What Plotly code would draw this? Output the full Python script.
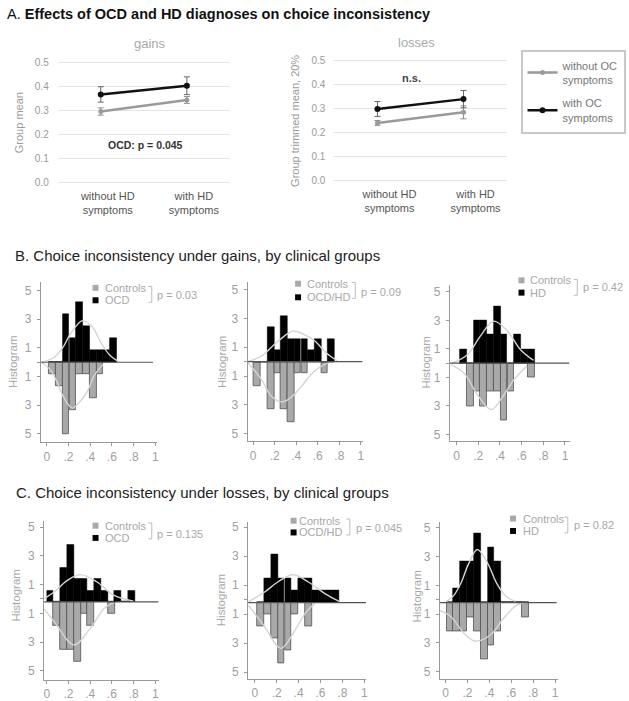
import plotly.graph_objects as go

W, H = 629, 701

# ---------------- Panel A data ----------------
hd_groups = ["without HD<br>symptoms", "with HD<br>symptoms"]
gains_no_oc = [0.297, 0.345]
gains_no_oc_err = [0.015, 0.014]
gains_oc = [0.368, 0.404]
gains_oc_err = [0.032, 0.037]
losses_no_oc = [0.242, 0.286]
losses_no_oc_err = [0.010, 0.027]
losses_oc = [0.300, 0.341]
losses_oc_err = [0.031, 0.036]
a_yticks = [0.0, 0.1, 0.2, 0.3, 0.4, 0.5]

# ---------------- Histogram data ----------------
bin_width = 0.0625
hist_xticks = [0, 0.2, 0.4, 0.6, 0.8, 1]
hist_xticktext = ["0", ".2", ".4", ".6", ".8", "1"]
hist_yticks = [5, 3, 1, 0, -1, -3, -5]
hist_yticktext = ["5", "3", "1", "", "1", "3", "5"]

# B1: gains, Controls vs OCD
b1_bins = [0.051, 0.114, 0.176, 0.239, 0.301, 0.364, 0.426, 0.489, 0.551, 0.614]
b1_controls = [0.83, 1.67, 5.0, 3.33, 0.83, 0.83, 2.5, 0.83, 0, 0]
b1_patients = [0, 0, 3.33, 1.67, 4.17, 2.5, 0.83, 0.83, 0.83, 1.67]
b1_fit_pat_x = [-0.05, 0.07, 0.15, 0.22, 0.33, 0.42, 0.5, 0.58, 0.66]
b1_fit_pat_y = [0.0, 0.35, 1.05, 2.0, 2.9, 2.45, 1.35, 0.5, 0.05]
b1_fit_ctl_x = [-0.05, 0.03, 0.09, 0.16, 0.235, 0.31, 0.37, 0.44, 0.52]
b1_fit_ctl_y = [0.0, -0.5, -1.3, -2.5, -3.2, -2.7, -2.1, -0.9, -0.15]

# B2: gains, Controls vs OCD/HD
b2_bins = [0.038, 0.101, 0.163, 0.226, 0.288, 0.351, 0.413, 0.476, 0.538, 0.601, 0.663, 0.726]
b2_controls = [1.67, 0, 3.33, 0.83, 3.33, 4.17, 0.83, 0.83, 0, 0, 0.83, 0]
b2_patients = [0, 0, 2.37, 0.79, 3.16, 1.58, 1.58, 1.58, 0.79, 1.58, 0, 1.58]
b2_fit_pat_x = [-0.05, 0.08, 0.17, 0.26, 0.37, 0.47, 0.57, 0.68, 0.78]
b2_fit_pat_y = [0.0, 0.4, 1.0, 1.6, 2.12, 1.9, 1.45, 0.6, 0.06]
b2_fit_ctl_x = [-0.05, 0.08, 0.17, 0.27, 0.36, 0.45, 0.57, 0.69]
b2_fit_ctl_y = [-0.05, -1.27, -2.4, -2.8, -2.45, -1.7, -0.65, -0.08]

# B3: gains, Controls vs HD
b3_bins = [0.062, 0.125, 0.187, 0.25, 0.312, 0.375, 0.437, 0.5, 0.562, 0.625, 0.687]
b3_controls = [0, 3, 2, 3, 2, 2, 4, 2, 0, 0, 1]
b3_patients = [1, 0, 3, 3, 2, 4, 2, 0, 2, 1, 1]
b3_fit_pat_x = [-0.04, 0.1, 0.22, 0.34, 0.46, 0.59, 0.71]
b3_fit_pat_y = [0.0, 0.6, 1.9, 2.95, 2.35, 0.95, 0.2]
b3_fit_ctl_x = [-0.05, 0.07, 0.2, 0.32, 0.43, 0.53, 0.65]
b3_fit_ctl_y = [-0.1, -0.7, -2.3, -3.25, -2.3, -1.15, -0.2]

# C1: losses, Controls vs OCD
c1_bins = [0.031, 0.094, 0.156, 0.219, 0.281, 0.344, 0.406, 0.469, 0.531, 0.594, 0.656, 0.719, 0.781]
c1_controls = [0, 1.67, 3.33, 3.33, 4.17, 0.83, 1.67, 0, 0, 0.83, 0, 0, 0]
c1_patients = [0.8, 0, 2.4, 4.0, 1.6, 1.6, 0.8, 1.6, 0.8, 0, 0.8, 0, 0.8]
c1_fit_pat_x = [-0.05, 0.07, 0.19, 0.31, 0.46, 0.62, 0.8]
c1_fit_pat_y = [0.1, 0.7, 1.5, 1.9, 1.4, 0.45, 0.05]
c1_fit_ctl_x = [-0.05, 0.07, 0.25, 0.4, 0.53, 0.62]
c1_fit_ctl_y = [-0.25, -1.4, -3.0, -1.85, -0.45, -0.05]

# C2: losses, Controls vs OCD/HD
c2_bins = [0.054, 0.116, 0.179, 0.241, 0.304, 0.366, 0.429, 0.491, 0.554, 0.616, 0.679, 0.741]
c2_controls = [1.67, 0.83, 2.5, 4.17, 3.33, 0.83, 0, 1.67, 0, 0, 0, 0]
c2_patients = [0, 1.65, 3.3, 1.65, 1.65, 0.82, 1.65, 1.65, 0.82, 0.82, 0.82, 0.82]
c2_fit_pat_x = [-0.06, 0.09, 0.21, 0.35, 0.49, 0.64, 0.77]
c2_fit_pat_y = [0.05, 0.73, 1.42, 1.92, 1.42, 0.62, 0.09]
c2_fit_ctl_x = [-0.06, 0.08, 0.24, 0.36, 0.47, 0.55]
c2_fit_ctl_y = [-0.18, -1.56, -3.16, -2.0, -0.64, -0.07]

# C3: losses, Controls vs HD
c3_bins = [0.039, 0.101, 0.164, 0.226, 0.289, 0.351, 0.414, 0.476, 0.539, 0.601, 0.664, 0.726]
c3_controls = [2.03, 2.03, 2.03, 1.06, 2.03, 3.93, 3.0, 2.03, 0, 0, 0, 1.0]
c3_patients = [0, 0.96, 2.88, 2.88, 4.8, 0, 3.84, 2.88, 0, 0, 0, 0]
c3_fit_pat_x = [0.0, 0.07, 0.14, 0.21, 0.29, 0.38, 0.47, 0.55, 0.64]
c3_fit_pat_y = [0.05, 0.45, 1.35, 2.7, 3.7, 2.8, 1.3, 0.45, 0.08]
c3_fit_ctl_x = [-0.05, 0.05, 0.17, 0.27, 0.41, 0.53, 0.65, 0.74]
c3_fit_ctl_y = [-0.55, -1.0, -2.15, -2.68, -2.26, -1.1, -0.18, 0.0]

panel_patient_labels = ["OCD", "OCD/HD", "HD", "OCD", "OCD/HD", "HD"]
panel_pvalues = ["p = 0.03", "p = 0.09", "p = 0.42", "p = 0.135", "p = 0.045", "p = 0.82"]

# ---------------- helpers ----------------
def px(x):
    return x / W

def py(y):
    return 1 - y / H

FONT = "Liberation Sans, Arial, sans-serif"
GRAY_TXT = "#a8a8a8"
CTRL_COL = "#a9a9a9"

fig = go.Figure()

# ---------------- Panel A ----------------
a_panels = [
    dict(ax="x", ay="y", no=gains_no_oc, noe=gains_no_oc_err, oc=gains_oc, oce=gains_oc_err, leg=True),
    dict(ax="x2", ay="y2", no=losses_no_oc, noe=losses_no_oc_err, oc=losses_oc, oce=losses_oc_err, leg=False),
]
for p in a_panels:
    fig.add_trace(go.Scatter(
        x=hd_groups, y=p["no"], xaxis=p["ax"], yaxis=p["ay"], mode="lines+markers",
        name="without OC<br>symptoms", legendgroup="no", showlegend=p["leg"],
        line=dict(color="#9a9a9a", width=2.5), marker=dict(color="#9a9a9a", size=5),
        error_y=dict(type="data", array=p["noe"], color="#8a8a8a", thickness=1, width=3)))
    fig.add_trace(go.Scatter(
        x=hd_groups, y=p["oc"], xaxis=p["ax"], yaxis=p["ay"], mode="lines+markers",
        name="with OC<br>symptoms", legendgroup="oc", showlegend=p["leg"],
        line=dict(color="#111111", width=2.5), marker=dict(color="#111111", size=6),
        error_y=dict(type="data", array=p["oce"], color="#666666", thickness=1, width=3)))

layout_axes = {}

def a_axes(name_x, name_y, xl, xr, py0, t, shift):
    lo, hi = -0.02, 0.52
    pB = py0 - lo * t
    pT = py0 - hi * t
    layout_axes["xaxis" + name_x] = dict(
        domain=[px(xl), px(xr)], anchor="y" + name_y, type="category",
        categoryorder="array", categoryarray=hd_groups, range=[-0.5, 1.5],
        showgrid=False, showline=False, zeroline=False, ticks="",
        ticklabelshift=shift,
        tickfont=dict(size=11, color="#555555", family=FONT))
    layout_axes["yaxis" + name_y] = dict(
        domain=[py(pB), py(pT)], anchor="x" + name_x, range=[lo, hi],
        tickvals=a_yticks, tickformat=".1f", showgrid=True, gridcolor="#e4e4e4",
        gridwidth=1, zeroline=False, showline=False, ticks="", ticklabelstandoff=8,
        tickfont=dict(size=10, color="#9a9a9a", family=FONT))

a_axes("", "", 57, 230, 182, 242, 7)
a_axes("2", "2", 335, 508, 180, 241.4, 12)

# ---------------- Histogram panels ----------------
hist_panels = [
    dict(bins=b1_bins, ctl=b1_controls, pat=b1_patients, fpx=b1_fit_pat_x, fpy=b1_fit_pat_y,
         fcx=b1_fit_ctl_x, fcy=b1_fit_ctl_y,
         g=dict(px0=46, s=109, pL=40, pR=157, py0=362.3, t=14.43, pT=281.7, pB=442.7, base_end=152.7, shift=0),
         leg=dict(sq=92, r1=287.5, r2=300, tx=102, br=151.5, b1=286, b2=302, p_x=155, p_y=295),
         htx=12, hty=362),
    dict(bins=b2_bins, ctl=b2_controls, pat=b2_patients, fpx=b2_fit_pat_x, fpy=b2_fit_pat_y,
         fcx=b2_fit_ctl_x, fcy=b2_fit_ctl_y,
         g=dict(px0=253.3, s=108.3, pL=247.7, pR=364, py0=361.7, t=14.47, pT=281.7, pB=441.7, base_end=363, shift=0),
         leg=dict(sq=295.5, r1=283.3, r2=297, tx=305, br=356, b1=282, b2=298, p_x=360, p_y=291.5),
         htx=221.5, hty=361.7),
    dict(bins=b3_bins, ctl=b3_controls, pat=b3_patients, fpx=b3_fit_pat_x, fpy=b3_fit_pat_y,
         fcx=b3_fit_ctl_x, fcy=b3_fit_ctl_y,
         g=dict(px0=457.7, s=109, pL=451, pR=571.7, py0=363.3, t=14.33, pT=285, pB=441.7, base_end=571, shift=0),
         leg=dict(sq=520, r1=280, r2=292.3, tx=530, br=579, b1=279, b2=295, p_x=583, p_y=287),
         htx=426.7, hty=363),
    dict(bins=c1_bins, ctl=c1_controls, pat=c1_patients, fpx=c1_fit_pat_x, fpy=c1_fit_pat_y,
         fcx=c1_fit_ctl_x, fcy=c1_fit_ctl_y,
         g=dict(px0=46, s=109, pL=43.3, pR=158.3, py0=603.3, t=14.43, pT=521.7, pB=681.7, base_end=158.3, shift=0.2),
         leg=dict(sq=92, r1=526.7, r2=539, tx=102, br=151.5, b1=524, b2=540, p_x=155, p_y=535),
         htx=15, hty=597),
    dict(bins=c2_bins, ctl=c2_controls, pat=c2_patients, fpx=c2_fit_pat_x, fpy=c2_fit_pat_y,
         fcx=c2_fit_ctl_x, fcy=c2_fit_ctl_y,
         g=dict(px0=255, s=110, pL=248.3, pR=366.7, py0=604, t=14.57, pT=523.3, pB=680.7, base_end=366.7, shift=0.2),
         leg=dict(sq=291, r1=521.7, r2=533.5, tx=297, br=350.5, b1=520, b2=536, p_x=355, p_y=529),
         htx=221, hty=601.7),
    dict(bins=c3_bins, ctl=c3_controls, pat=c3_patients, fpx=c3_fit_pat_x, fpy=c3_fit_pat_y,
         fcx=c3_fit_ctl_x, fcy=c3_fit_ctl_y,
         g=dict(px0=446.7, s=110, pL=441, pR=560, py0=604, t=14.43, pT=523.3, pB=680.7, base_end=558.3, shift=0.2),
         leg=dict(sq=511.5, r1=519.5, r2=532, tx=522, br=569.5, b1=518, b2=534, p_x=574, p_y=526),
         htx=418, hty=598),
]

shapes = []
annotations = []

for i, hp in enumerate(hist_panels):
    n = str(i + 3)
    g = hp["g"]
    xr = [(g["pL"] - g["px0"]) / g["s"], (g["pR"] - g["px0"]) / g["s"]]
    yr = [(g["py0"] - g["pB"]) / g["t"], (g["py0"] - g["pT"]) / g["t"]]
    layout_axes["xaxis" + n] = dict(
        domain=[px(g["pL"]), px(g["pR"])], anchor="y" + n, range=xr,
        tickvals=hist_xticks, ticktext=hist_xticktext, ticks="outside", ticklen=3,
        tickcolor="#9a9a9a", showline=True, linecolor="#9a9a9a", linewidth=1,
        showgrid=False, zeroline=False,
        tickfont=dict(size=12, color="#a0a0a0", family=FONT))
    layout_axes["yaxis" + n] = dict(
        domain=[py(g["pB"]), py(g["pT"])], anchor="x" + n, range=yr,
        tickvals=[v + g["shift"] for v in hist_yticks], ticktext=hist_yticktext,
        ticks="outside", ticklen=3, tickcolor="#9a9a9a", showline=True,
        linecolor="#9a9a9a", linewidth=1, showgrid=False, zeroline=False,
        ticklabelstandoff=3,
        tickfont=dict(size=12, color="#a0a0a0", family=FONT))

    fig.add_trace(go.Bar(
        x=hp["bins"], y=[-c for c in hp["ctl"]], width=bin_width, xaxis="x" + n, yaxis="y" + n,
        marker=dict(color=CTRL_COL, line=dict(color="#505050", width=0.8)), showlegend=False,
        name="Controls"))
    fig.add_trace(go.Bar(
        x=hp["bins"], y=hp["pat"], width=bin_width, xaxis="x" + n, yaxis="y" + n,
        marker=dict(color="#000000", line=dict(color="#000000", width=0.5)), showlegend=False,
        name=panel_patient_labels[i]))
    fig.add_trace(go.Scatter(
        x=hp["fpx"], y=hp["fpy"], xaxis="x" + n, yaxis="y" + n, mode="lines",
        line=dict(color="#d4d4d4", width=1.4, shape="spline"), showlegend=False, hoverinfo="skip"))
    fig.add_trace(go.Scatter(
        x=hp["fcx"], y=hp["fcy"], xaxis="x" + n, yaxis="y" + n, mode="lines",
        line=dict(color="#d4d4d4", width=1.4, shape="spline"), showlegend=False, hoverinfo="skip"))

    # baseline
    shapes.append(dict(type="line", xref="x" + n, yref="y" + n, x0=xr[0],
                       x1=(g["base_end"] - g["px0"]) / g["s"], y0=0, y1=0,
                       line=dict(color="#555555", width=1.2), layer="above"))

    # legend boxes
    L = hp["leg"]
    sz = 6
    for (row, col) in [(L["r1"], CTRL_COL), (L["r2"], "#000000")]:
        shapes.append(dict(type="rect", xref="paper", yref="paper",
                           x0=px(L["sq"]), x1=px(L["sq"] + sz),
                           y0=py(row + sz / 2), y1=py(row - sz / 2),
                           fillcolor=col, line=dict(width=0)))
    annotations.append(dict(text="Controls", x=px(L["tx"]), y=py(L["r1"]), xref="paper", yref="paper",
                            xanchor="left", yanchor="middle", showarrow=False,
                            font=dict(size=11, color=GRAY_TXT, family=FONT)))
    annotations.append(dict(text=panel_patient_labels[i], x=px(L["tx"]), y=py(L["r2"]), xref="paper",
                            yref="paper", xanchor="left", yanchor="middle", showarrow=False,
                            font=dict(size=11, color=GRAY_TXT, family=FONT)))
    bx = L["br"]
    shapes.append(dict(type="path", xref="paper", yref="paper",
                       path="M {a},{b} L {c},{b} L {c},{d} L {a},{d}".format(
                           a=px(bx - 3.5), b=py(L["b1"]), c=px(bx), d=py(L["b2"])),
                       line=dict(color="#bdbdbd", width=1)))
    annotations.append(dict(text=panel_pvalues[i], x=px(L["p_x"]), y=py(L["p_y"]), xref="paper",
                            yref="paper", xanchor="left", yanchor="middle", showarrow=False,
                            font=dict(size=11, color=GRAY_TXT, family=FONT)))
    annotations.append(dict(text="Histogram", x=px(hp["htx"]), y=py(hp["hty"]), xref="paper",
                            yref="paper", xanchor="center", yanchor="middle", textangle=-90,
                            showarrow=False, font=dict(size=11.5, color=GRAY_TXT, family=FONT)))

# ---------------- Texts ----------------
def ann(text, x, y, size, color, xanchor="left", angle=0):
    annotations.append(dict(text=text, x=px(x), y=py(y), xref="paper", yref="paper",
                            xanchor=xanchor, yanchor="middle", showarrow=False, textangle=angle,
                            font=dict(size=size, color=color, family=FONT)))

ann("A. <b>Effects of OCD and HD diagnoses on choice inconsistency</b>", 4, 12.5, 14.5, "#111111")
ann("B. Choice inconsistency under gains, by clinical groups", 12.5, 255, 15, "#222222")
ann("C. Choice inconsistency under losses, by clinical groups", 13.5, 493, 15, "#222222")
ann("gains", 150, 42, 13, "#aaaaaa", "center")
ann("losses", 417, 41, 13, "#aaaaaa", "center")
ann("Group mean", 18, 121, 11, "#9a9a9a", "center", -90)
ann("Group trimmed mean, 20%", 296, 120, 11, "#9a9a9a", "center", -90)
ann("<b>OCD: p = 0.045</b>", 145, 144, 10.5, "#333333", "center")
ann("<b>n.s.</b>", 412, 76, 11, "#444444", "center")

fig.update_layout(
    width=W, height=H, autosize=False,
    margin=dict(l=0, r=0, t=0, b=0),
    paper_bgcolor="white", plot_bgcolor="white",
    barmode="overlay", bargap=0,
    font=dict(family=FONT),
    shapes=shapes, annotations=annotations,
    legend=dict(x=px(522), y=py(48), xanchor="left", yanchor="top",
                bordercolor="#c8c8c8", borderwidth=2, bgcolor="white",
                font=dict(size=11, color="#777777", family=FONT),
                itemwidth=30, tracegroupgap=6),
    **layout_axes,
)

fig.write_html("out.html", config={"displayModeBar": False},
               post_script="document.body.style.margin='0';document.body.style.overflow='hidden';")
